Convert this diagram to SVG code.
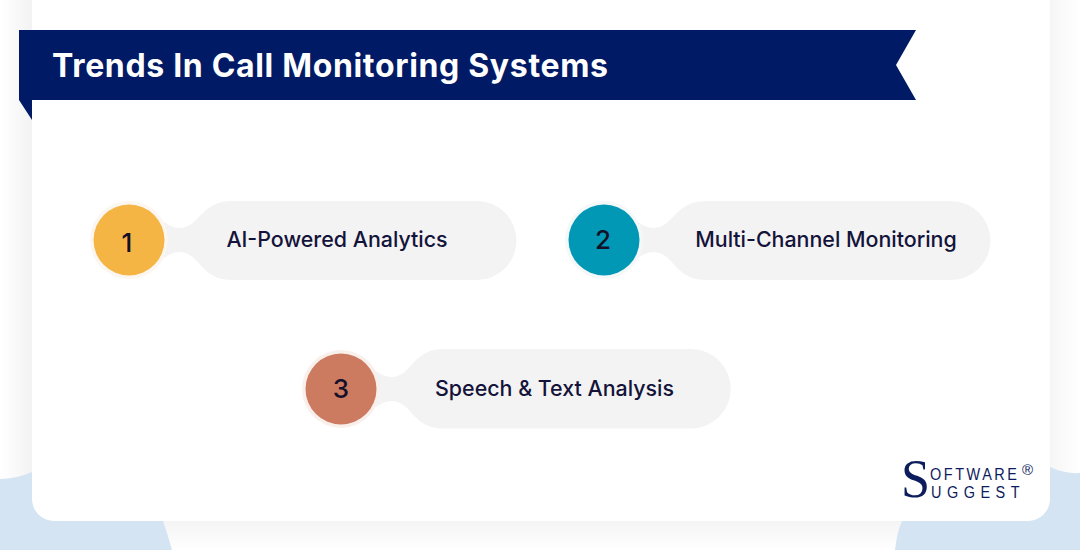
<svg xmlns="http://www.w3.org/2000/svg" width="1080" height="550" viewBox="0 0 1080 550">
<defs>
<linearGradient id="l" x1="0" x2="1" y1="0" y2="0"><stop offset="0" stop-color="#ffffff"/><stop offset="1" stop-color="#f3f3f3"/></linearGradient>
<linearGradient id="r" x1="0" x2="1" y1="0" y2="0"><stop offset="0" stop-color="#f6f6f6"/><stop offset="1" stop-color="#ffffff"/></linearGradient>
<linearGradient id="b" x1="0" x2="0" y1="0" y2="1"><stop offset="0" stop-color="#f4f4f4"/><stop offset="1" stop-color="#ffffff"/></linearGradient>
</defs>
<style>
.pill{fill:#f3f3f4}
.lbl{font:450 21.4px Inter,"Noto Sans",sans-serif;fill:#14143a;text-anchor:middle}
.num{font:450 26px Inter,"Noto Sans",sans-serif;fill:#14102a;text-anchor:middle}
.lg{font-family:"Liberation Sans",sans-serif;font-size:17px;fill:#0d1c5c}
</style>
<g id="background">
<rect width="1080" height="550" fill="#ffffff"/>
<rect x="0" width="32" height="490" fill="url(#l)"/>
<rect x="1050" width="30" height="490" fill="url(#r)"/>
<rect x="150" y="521" width="760" height="29" fill="url(#b)"/>
<path d="M0 479Q16 479 32 472L163 521Q168 535 172 550L0 550Z" fill="#d4e4f3"/>
<path d="M895 550Q897 532 902 521L1050 467Q1065 474 1080 473L1080 550Z" fill="#d4e4f3"/>
</g>
<rect id="card" x="32" y="-30" width="1018" height="551" rx="22" fill="#ffffff"/>
<g id="banner">
<path d="M19 30H916L896 65L916 100H32V120L19 100Z" fill="#001a66"/>
<text x="52" y="77" font-family="Inter,'Noto Sans',sans-serif" font-size="32" font-weight="700" letter-spacing="0.67" fill="#ffffff">Trends In Call Monitoring Systems</text>
</g>
<g id="connectors"></g>
<g id="node1">
<path class="pill" d="M232 201C212 201 204 212 196 220Q188 228 180 228Q172 228 164 222L150 222V258L164 258Q172 252 180 252Q188 252 196 260C204 269 212 280 232 280H477A39.500 39.500 0 0 0 477 201Z"/>
<circle cx="129" cy="240" r="39" fill="#fbf6f0"/>
<circle cx="129" cy="240" r="35.500" fill="#f4b545"/>
<text class="num" x="127" y="252">1</text>
<text class="lbl" x="337" y="247">AI-Powered Analytics</text>
</g>
<g id="node2">
<path class="pill" d="M706 201C686 201 678 212 670 220Q662 228 654 228Q646 228 638 222L624 222V258L638 258Q646 252 654 252Q662 252 670 260C678 269 686 280 706 280H951A39.500 39.500 0 0 0 951 201Z"/>
<circle cx="604" cy="240" r="39" fill="#f4f8f9"/>
<circle cx="604" cy="240" r="35.500" fill="#0098b5"/>
<text class="num" x="603" y="249">2</text>
<text class="lbl" x="826" y="247">Multi-Channel Monitoring</text>
</g>
<g id="node3">
<path class="pill" d="M444 349C424 349 416 360 408 369Q400 377 392 377Q384 377 376 371L362 371V407L376 407Q384 401 392 401Q400 401 408 409C416 418 424 428.500 444 428.500H691A39.750 39.750 0 0 0 691 349Z"/>
<circle cx="341" cy="389" r="39" fill="#f9f0ec"/>
<circle cx="341" cy="389" r="35.500" fill="#cc7a60"/>
<text class="num" x="341" y="398">3</text>
<text class="lbl" x="554.500" y="396">Speech &amp; Text Analysis</text>
</g>
<g id="logo">
<text transform="translate(901 497) scale(0.95 1)" font-family="'Liberation Serif',serif" font-size="55" fill="#0d1c5c">S</text>
<text class="lg" transform="translate(930 480) scale(0.85 1)" letter-spacing="3">OFTWARE</text>
<text class="lg" transform="translate(931 498) scale(0.85 1)" letter-spacing="6.500">UGGEST</text>
<text x="1022" y="475" font-family="'Liberation Sans',sans-serif" font-size="15" fill="#0d1c5c">®</text>
</g>
</svg>
